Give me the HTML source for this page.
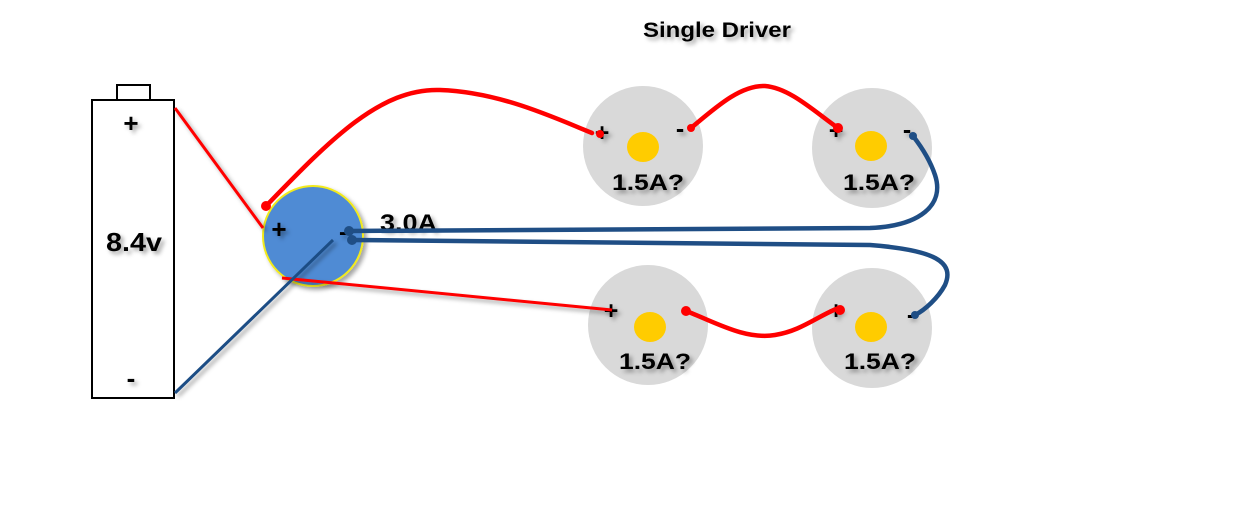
<!DOCTYPE html>
<html><head><meta charset="utf-8"><style>
html,body{margin:0;padding:0;background:#fff;}
svg{display:block;}
text{font-family:"Liberation Sans",Arial,sans-serif;font-weight:bold;fill:#000;}
</style></head><body>
<svg width="1256" height="531" viewBox="0 0 1256 531" xmlns="http://www.w3.org/2000/svg">
<defs>
<filter id="sh" x="-20%" y="-20%" width="150%" height="150%"><feDropShadow dx="3" dy="3" stdDeviation="2" flood-color="#000" flood-opacity="0.35"/></filter>
</defs>
<!-- battery -->
<rect x="117" y="85" width="33" height="15" fill="#fff" stroke="#000" stroke-width="2"/>
<rect x="92" y="100" width="82" height="298" fill="#fff" stroke="#000" stroke-width="2"/>
<g filter="url(#sh)">
<text x="131" y="132" font-size="26" text-anchor="middle">+</text>
<text x="106" y="251" font-size="26" textLength="56" lengthAdjust="spacingAndGlyphs">8.4v</text>
<text x="131" y="387" font-size="26" text-anchor="middle">-</text>
</g>
<!-- LEDs -->
<g fill="#d9d9d9">
<circle cx="643" cy="146" r="60"/>
<circle cx="872" cy="148" r="60"/>
<circle cx="648" cy="325" r="60"/>
<circle cx="872" cy="328" r="60"/>
</g>
<g fill="#ffcc00">
<ellipse cx="643" cy="147" rx="16" ry="15"/>
<ellipse cx="871" cy="146" rx="16" ry="15"/>
<ellipse cx="650" cy="327" rx="16" ry="15"/>
<ellipse cx="871" cy="327" rx="16" ry="15"/>
</g>
<g filter="url(#sh)" font-size="22">
<text x="612" y="190" textLength="72" lengthAdjust="spacingAndGlyphs">1.5A?</text>
<text x="843" y="190" textLength="72" lengthAdjust="spacingAndGlyphs">1.5A?</text>
<text x="619" y="369" textLength="72" lengthAdjust="spacingAndGlyphs">1.5A?</text>
<text x="844" y="369" textLength="72" lengthAdjust="spacingAndGlyphs">1.5A?</text>
</g>
<g filter="url(#sh)" font-size="25" text-anchor="middle">
<text x="602" y="141">+</text>
<text x="680" y="137">-</text>
<text x="836" y="139">+</text>
<text x="907" y="138">-</text>
<text x="611" y="319">+</text>
<text x="836" y="319">+</text>
<text x="911" y="323">-</text>
</g>
<!-- driver -->
<circle cx="313" cy="236" r="50" fill="#508bd4" stroke="#f2ea1c" stroke-width="2" filter="url(#sh)"/>
<g filter="url(#sh)">
<text x="279" y="238" font-size="26" text-anchor="middle">+</text>
<text x="343" y="240" font-size="24" text-anchor="middle">-</text>
<text x="380" y="231" font-size="24" textLength="57" lengthAdjust="spacingAndGlyphs">3.0A</text>
</g>
<!-- thin wires -->
<g filter="url(#sh)" fill="none">
<line x1="175" y1="108" x2="263" y2="228" stroke="#ff0000" stroke-width="3"/>
<line x1="282" y1="278" x2="612" y2="310" stroke="#ff0000" stroke-width="3"/>
<line x1="175" y1="393" x2="333" y2="240" stroke="#1f4e85" stroke-width="3"/>
</g>
<!-- thick red -->
<g fill="none" stroke="#ff0000" stroke-width="4.5" stroke-linecap="round">
<path d="M266,206 C330,140 380,88 440,90 C500,92 555,118 592,133"/>
<path d="M691,128 C715,108 740,85 765,86 C790,88 815,112 838,128"/>
<path d="M686,311 C715,322 745,340 775,335 C800,331 815,318 836,309"/>
</g>
<g fill="#ff0000">
<circle cx="266" cy="206" r="5"/>
<circle cx="600" cy="134" r="4"/>
<circle cx="691" cy="128" r="4"/>
<circle cx="838" cy="128" r="5"/>
<circle cx="686" cy="311" r="5"/>
<circle cx="840" cy="310" r="5"/>
</g>
<!-- blue thick -->
<g fill="none" stroke="#1f4e85" stroke-width="4.5" stroke-linecap="round">
<path d="M349,231 L870,228 C920,226 945,205 935,175 C930,160 920,145 913,136"/>
<path d="M352,240 L870,245 C935,250 955,262 945,285 C938,298 925,310 915,315"/>
</g>
<g fill="#1f4e85">
<circle cx="349" cy="231" r="5"/>
<circle cx="352" cy="240" r="5"/>
<circle cx="913" cy="136" r="4"/>
<circle cx="915" cy="315" r="4"/>
</g>
<text x="643" y="37" font-size="21" textLength="148" lengthAdjust="spacingAndGlyphs" filter="url(#sh)">Single Driver</text>
</svg>
</body></html>
